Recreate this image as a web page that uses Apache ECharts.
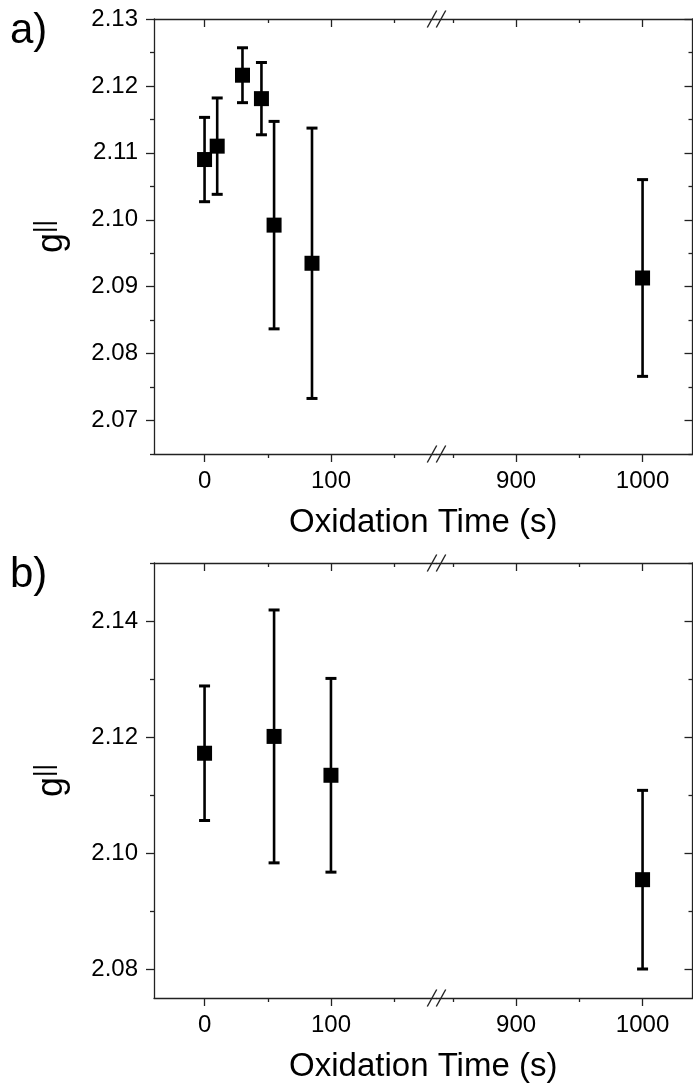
<!DOCTYPE html>
<html>
<head>
<meta charset="utf-8">
<script src="https://cdn.jsdelivr.net/npm/echarts@6/dist/echarts.min.js"></script>
<style>
html, body { margin: 0; padding: 0; background: #fff; }
#chart { width: 693px; height: 1089px; }
</style>
</head>
<body>
<div id="chart"></div>
<script>
// panel a) data
var timeA = [0, 10, 30, 45, 55, 85, 1000];
var gA = [2.1090, 2.1110, 2.1216, 2.1181, 2.0992, 2.0935, 2.0913];
var errA = [0.0063, 0.0072, 0.0041, 0.0054, 0.0155, 0.0202, 0.0147];

// panel b) data
var timeB = [0, 55, 100, 1000];
var gB = [2.1172, 2.1201, 2.1134, 2.0954];
var errB = [0.0116, 0.0218, 0.0167, 0.0154];

// tick labels
var xMajor = [0, 100, 900, 1000];
var xMinor = [50, 150, 850, 950];
var yMajorA = [2.07, 2.08, 2.09, 2.10, 2.11, 2.12, 2.13];
var yMinorA = [2.065, 2.075, 2.085, 2.095, 2.105, 2.115, 2.125];
var yMajorB = [2.08, 2.10, 2.12, 2.14];
var yMinorB = [2.09, 2.11, 2.13, 2.15];

var font = 'Liberation Sans, Arial, sans-serif';
var axisColor = '#222';
var PLOT_LEFT = 154, BREAK_X = 436.5, PLOT_RIGHT = 692.5;
var X_LEFT = [-40, 183.5], X_RIGHT = [837, 1039.5];

var panels = [
  { tag: 'a)', top: 19, height: 435, yRange: [2.065, 2.13], yMajor: yMajorA, yMinor: yMinorA, t: timeA, g: gA, e: errA },
  { tag: 'b)', top: 563, height: 435, yRange: [2.075, 2.15], yMajor: yMajorB, yMinor: yMinorB, t: timeB, g: gB, e: errB }
];

var grids = [], xAxes = [], yAxes = [], series = [], graphics = [];

function within(list, r) {
  return list.filter(function (v) { return v >= r[0] - 1e-9 && v <= r[1] + 1e-9; });
}

function addX(grid, range, position, values, len, inside, line, label) {
  xAxes.push({
    type: 'value', gridIndex: grid, min: range[0], max: range[1], position: position,
    axisLine: { show: line, onZero: false, lineStyle: { color: axisColor, width: 1.3 } },
    axisTick: { show: true, inside: inside, length: len, customValues: values,
      lineStyle: { color: axisColor, width: 1.3 } },
    axisLabel: { show: label, customValues: values, margin: 15, fontSize: 24,
      color: '#000', fontFamily: font,
      formatter: function (v) { return String(Math.round(v)); } },
    splitLine: { show: false }
  });
  return xAxes.length - 1;
}

function addY(grid, range, position, values, len, inside, line, label) {
  yAxes.push({
    type: 'value', gridIndex: grid, min: range[0], max: range[1], position: position,
    axisLine: { show: line, onZero: false, lineStyle: { color: axisColor, width: 1.3 } },
    axisTick: { show: true, inside: inside, length: len, customValues: values,
      lineStyle: { color: axisColor, width: 1.3 } },
    axisLabel: { show: label, customValues: values, margin: 16, fontSize: 24,
      color: '#000', fontFamily: font,
      formatter: function (v) { return Number(v).toFixed(2); } },
    splitLine: { show: false }
  });
  return yAxes.length - 1;
}

function renderErr(params, api) {
  var x = api.value(0);
  var hi = api.coord([x, api.value(2)]);
  var lo = api.coord([x, api.value(1)]);
  var w = 5.5;
  var st = { stroke: '#000', lineWidth: 2.6 };
  var cap = { stroke: '#000', lineWidth: 3 };
  return {
    type: 'group',
    children: [
      { type: 'line', shape: { x1: hi[0], y1: hi[1], x2: lo[0], y2: lo[1] }, style: st },
      { type: 'line', shape: { x1: hi[0] - w, y1: hi[1], x2: hi[0] + w, y2: hi[1] }, style: cap },
      { type: 'line', shape: { x1: lo[0] - w, y1: lo[1], x2: lo[0] + w, y2: lo[1] }, style: cap }
    ]
  };
}

panels.forEach(function (p) {
  var parts = [
    { range: X_LEFT, left: PLOT_LEFT, width: BREAK_X - PLOT_LEFT },
    { range: X_RIGHT, left: BREAK_X, width: PLOT_RIGHT - BREAK_X }
  ];
  parts.forEach(function (part, side) {
    grids.push({ left: part.left, top: p.top, width: part.width, height: p.height,
      containLabel: false, outerBoundsMode: 'none' });
    var gi = grids.length - 1;
    var maj = within(xMajor, part.range), mnr = within(xMinor, part.range);
    var xi = addX(gi, part.range, 'bottom', maj, 8, false, true, true);
    addX(gi, part.range, 'bottom', mnr, 4, false, false, false);
    addX(gi, part.range, 'top', maj, 8, true, true, false);
    addX(gi, part.range, 'top', mnr, 4, true, false, false);
    var yi;
    if (side === 0) {
      yi = addY(gi, p.yRange, 'left', p.yMajor, 8, false, true, true);
      addY(gi, p.yRange, 'left', p.yMinor, 4, false, false, false);
      var ya = yAxes[yi];
      ya.name = '{g|g}{s|||}';
      ya.nameLocation = 'middle';
      ya.nameRotate = 90;
      ya.nameGap = 84;
      ya.nameTextStyle = { rich: {
        g: { fontSize: 36, fontFamily: font, color: '#000', verticalAlign: 'bottom' },
        s: { fontSize: 25, fontFamily: font, color: '#000', verticalAlign: 'bottom', padding: [0, 0, 12, 0] }
      } };
    } else {
      yi = addY(gi, p.yRange, 'right', p.yMajor, 8, true, true, false);
      addY(gi, p.yRange, 'right', p.yMinor, 4, true, false, false);
    }
    var idx = [];
    p.t.forEach(function (t, i) {
      if (t >= part.range[0] && t <= part.range[1]) idx.push(i);
    });
    series.push({
      type: 'custom', xAxisIndex: xi, yAxisIndex: yi, renderItem: renderErr,
      encode: { x: 0, y: [1, 2] }, z: 2, silent: true,
      data: idx.map(function (i) { return [p.t[i], p.g[i] - p.e[i], p.g[i] + p.e[i]]; })
    });
    series.push({
      type: 'scatter', xAxisIndex: xi, yAxisIndex: yi, symbol: 'rect', symbolSize: 15,
      itemStyle: { color: '#000', opacity: 1 }, z: 3, silent: true,
      data: idx.map(function (i) { return [p.t[i], p.g[i]]; })
    });
  });

  // full-width frame grid carrying the x axis title
  grids.push({ left: PLOT_LEFT, top: p.top, width: PLOT_RIGHT - PLOT_LEFT, height: p.height,
    containLabel: false, outerBoundsMode: 'none' });
  var fg = grids.length - 1;
  xAxes.push({
    type: 'value', gridIndex: fg, min: 0, max: 1, position: 'bottom',
    axisLine: { show: false }, axisTick: { show: false }, axisLabel: { show: false },
    splitLine: { show: false },
    name: 'Oxidation Time (s)', nameLocation: 'middle', nameGap: 52,
    nameTextStyle: { fontSize: 33, fontFamily: font, color: '#000' }
  });
  yAxes.push({ type: 'value', gridIndex: fg, show: false, min: 0, max: 1 });

  // panel tag
  graphics.push({
    type: 'text', x: 10, y: p.top + 12,
    style: { text: p.tag, fontSize: 42, fontFamily: font, fill: '#000', align: 'left', verticalAlign: 'middle' }
  });
  // break marks on top and bottom axis lines
  [p.top, p.top + p.height].forEach(function (y) {
    [-4.5, 4.5].forEach(function (dx) {
      var cx = BREAK_X + dx;
      graphics.push({
        type: 'line', z: 10,
        shape: { x1: cx - 4.7, y1: y + 8.5, x2: cx + 4.7, y2: y - 8.5 },
        style: { stroke: axisColor, lineWidth: 1.4 }
      });
    });
  });
});

var chart = echarts.init(document.getElementById('chart'), null, { renderer: 'canvas' });
chart.setOption({
  backgroundColor: '#fff',
  animation: false,
  grid: grids,
  xAxis: xAxes,
  yAxis: yAxes,
  series: series,
  graphic: graphics
});
</script>
</body>
</html>
